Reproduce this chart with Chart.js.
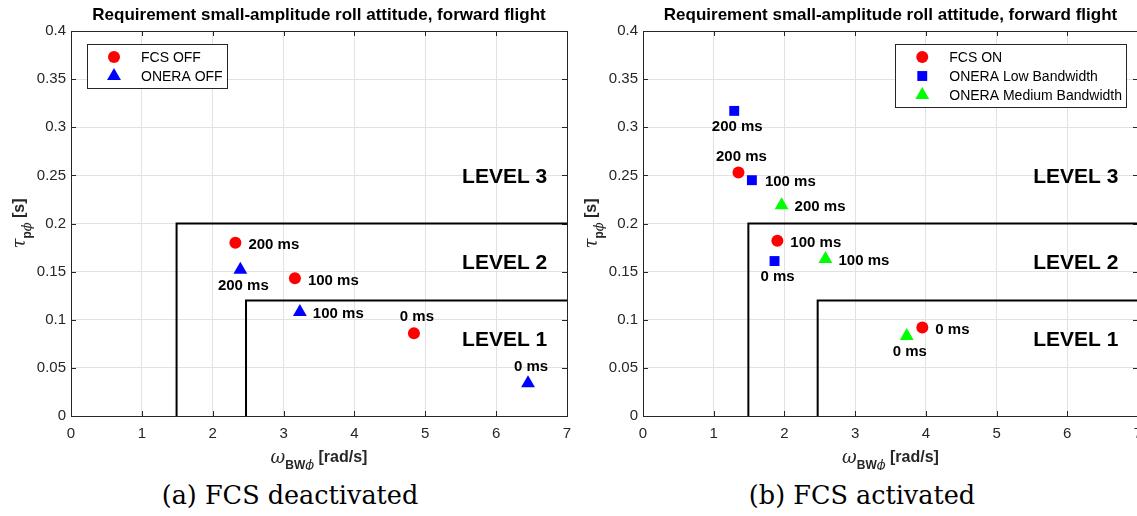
<!DOCTYPE html>
<html><head><meta charset="utf-8">
<script src="https://cdn.jsdelivr.net/npm/chart.js@4/dist/chart.umd.min.js"></script>
<style>
html,body{margin:0;padding:0;background:#fff;width:1137px;height:516px;overflow:hidden;position:relative}
canvas{position:absolute;top:0}
#c1{left:0}
#c2{left:572px}
.cap{position:absolute;top:480px;font-family:"DejaVu Serif",serif;font-size:25.5px;color:#000;white-space:nowrap;transform:translateX(-50%)}
</style></head><body>
<canvas id="c1" width="575" height="470"></canvas>
<canvas id="c2" width="580" height="470"></canvas>
<div class="cap" style="left:290px">(a) FCS deactivated</div>
<div class="cap" style="left:862px">(b) FCS activated</div>
<script>
// ---------- data ----------
const chartTitle = 'Requirement small-amplitude roll attitude, forward flight';
const xTicks = [0, 1, 2, 3, 4, 5, 6, 7];
const yTicks = [0, 0.05, 0.1, 0.15, 0.2, 0.25, 0.3, 0.35, 0.4];
const yTickLabels = ['0', '0.05', '0.1', '0.15', '0.2', '0.25', '0.3', '0.35', '0.4'];

// level boundaries
const level2X = [1.49, 1.49, 7];
const level2Y = [0, 0.2, 0.2];
const level1X = [2.47, 2.47, 7];
const level1Y = [0, 0.12, 0.12];
const levelNames = ['LEVEL 3', 'LEVEL 2', 'LEVEL 1'];
const levelNameX = [6.12, 6.12, 6.12];
const levelNameY = [0.248, 0.159, 0.079];

// (a) FCS deactivated
const fcsOffX = [2.32, 3.16, 4.84];
const fcsOffY = [0.180, 0.143, 0.086];
const fcsOffLabels = ['200 ms', '100 ms', '0 ms'];
const oneraOffX = [2.39, 3.23, 6.45];
const oneraOffY = [0.152, 0.108, 0.034];
const oneraOffLabels = ['200 ms', '100 ms', '0 ms'];

// (b) FCS activated
const fcsOnX = [1.35, 1.90, 3.95];
const fcsOnY = [0.253, 0.182, 0.092];
const fcsOnLabels = ['200 ms', '100 ms', '0 ms'];
const lowBwX = [1.29, 1.54, 1.86];
const lowBwY = [0.317, 0.245, 0.161];
const lowBwLabels = ['200 ms', '100 ms', '0 ms'];
const medBwX = [1.96, 2.58, 3.73];
const medBwY = [0.219, 0.163, 0.083];
const medBwLabels = ['200 ms', '100 ms', '0 ms'];

// ---------- label placement (style) ----------
const placeFcsOff = ['right', 'right', 'above'];
const placeOneraOff = ['below', 'right', 'above'];
const placeFcsOn = ['above', 'right', 'right'];
const placeLowBw = ['below', 'right', 'below'];
const placeMedBw = ['right', 'right', 'below'];

const AX = '#262626';
const SANS = '"Liberation Sans", Arial, sans-serif';

function drawMarker(ctx, style, x, y, r, color) {
  ctx.save();
  ctx.fillStyle = color;
  ctx.beginPath();
  if (style === 'circle') {
    ctx.arc(x, y, r, 0, Math.PI * 2);
  } else if (style === 'rect') {
    const s = r * Math.SQRT1_2;
    ctx.rect(x - s, y - s, 2 * s, 2 * s);
  } else if (style === 'triangle') {
    let a = 0;
    ctx.moveTo(x + Math.sin(a) * r, y - Math.cos(a) * r);
    a += 2 * Math.PI / 3;
    ctx.lineTo(x + Math.sin(a) * r, y - Math.cos(a) * r);
    a += 2 * Math.PI / 3;
    ctx.lineTo(x + Math.sin(a) * r, y - Math.cos(a) * r);
    ctx.closePath();
  }
  ctx.fill();
  ctx.restore();
}

function drawParts(ctx, parts, x, y) {
  let w = 0;
  parts.forEach(p => { ctx.font = p.font; w += ctx.measureText(p.t).width; });
  let cx = x - w / 2;
  ctx.textAlign = 'left';
  ctx.textBaseline = 'alphabetic';
  parts.forEach(p => {
    ctx.font = p.font;
    ctx.fillText(p.t, cx, y + p.dy);
    cx += ctx.measureText(p.t).width;
  });
}

const decor = {
  id: 'decor',
  beforeDatasetsDraw(chart) {
    const {ctx, chartArea: a, scales: {x, y}} = chart;
    ctx.save();
    ctx.strokeStyle = AX;
    ctx.lineWidth = 1;
    ctx.beginPath();
    xTicks.forEach(v => {
      const px = Math.round(x.getPixelForValue(v)) + 0.5;
      ctx.moveTo(px, a.bottom); ctx.lineTo(px, a.bottom - 5);
      ctx.moveTo(px, a.top); ctx.lineTo(px, a.top + 5);
    });
    yTicks.forEach(v => {
      const py = Math.round(y.getPixelForValue(v)) + 0.5;
      ctx.moveTo(a.left, py); ctx.lineTo(a.left + 5, py);
      ctx.moveTo(a.right, py); ctx.lineTo(a.right - 5, py);
    });
    ctx.stroke();
    ctx.strokeRect(Math.round(a.left) + 0.5, Math.round(a.top) + 0.5, Math.round(a.right - a.left), Math.round(a.bottom - a.top));
    ctx.restore();
  },
  afterDatasetsDraw(chart, args, opts) {
    const {ctx, chartArea: a, scales: {x, y}} = chart;
    ctx.save();
    // point labels
    ctx.fillStyle = '#000';
    ctx.font = 'bold 15px ' + SANS;
    opts.series.forEach(s => {
      s.x.forEach((v, i) => {
        const px = x.getPixelForValue(v), py = y.getPixelForValue(s.y[i]);
        const p = s.place[i];
        if (p === 'right') { ctx.textAlign = 'left'; ctx.textBaseline = 'middle'; ctx.fillText(s.labels[i], px + 13, py + 2); }
        else if (p === 'below') { ctx.textAlign = 'center'; ctx.textBaseline = 'middle'; ctx.fillText(s.labels[i], px + 3, py + 16); }
        else { ctx.textAlign = 'center'; ctx.textBaseline = 'middle'; ctx.fillText(s.labels[i], px + 3, py - 16); }
      });
    });
    // level names
    ctx.font = 'bold 21px ' + SANS;
    ctx.textAlign = 'center'; ctx.textBaseline = 'middle';
    levelNames.forEach((t, i) => ctx.fillText(t, x.getPixelForValue(levelNameX[i]), y.getPixelForValue(levelNameY[i])));
    // legend
    ctx.font = '14px ' + SANS;
    let tw = 0;
    opts.series.forEach(s => { tw = Math.max(tw, ctx.measureText(s.label).width); });
    const bw = 54 + tw + 4, bh = 19 * opts.series.length + 6;
    const bx = opts.legendRight ? a.right - 12 - bw : a.left + 16;
    const by = a.top + 13;
    ctx.fillStyle = '#fff';
    ctx.fillRect(bx, by, bw, bh);
    ctx.strokeStyle = AX; ctx.lineWidth = 1;
    ctx.strokeRect(Math.round(bx) + 0.5, by + 0.5, Math.round(bw), bh);
    opts.series.forEach((s, i) => {
      const ly = by + 13 + 19 * i;
      drawMarker(ctx, s.style, bx + 27, ly, s.r, s.color);
      ctx.fillStyle = '#000';
      ctx.textAlign = 'left'; ctx.textBaseline = 'middle';
      ctx.fillText(s.label, bx + 54, ly + 1);
    });
    // title
    ctx.fillStyle = '#000';
    ctx.font = 'bold 17px ' + SANS;
    ctx.textAlign = 'center'; ctx.textBaseline = 'middle';
    ctx.fillText(chartTitle, (a.left + a.right) / 2, 15);
    // x title
    ctx.fillStyle = AX;
    drawParts(ctx, [
      {t: 'ω', font: 'italic 18px "DejaVu Serif", serif', dy: 0},
      {t: 'BW', font: 'bold 12px ' + SANS, dy: 6},
      {t: 'ϕ', font: 'italic 13px "DejaVu Serif", serif', dy: 6},
      {t: ' [rad/s]', font: 'bold 16px ' + SANS, dy: -1}
    ], (a.left + a.right) / 2, a.bottom + 47);
    // y title
    ctx.save();
    ctx.translate(a.left - 46, (a.top + a.bottom) / 2);
    ctx.rotate(-Math.PI / 2);
    drawParts(ctx, [
      {t: 'τ', font: 'italic 18px "DejaVu Serif", serif', dy: 0},
      {t: 'p', font: 'bold 12px ' + SANS, dy: 6},
      {t: 'ϕ', font: 'italic 13px "DejaVu Serif", serif', dy: 6},
      {t: ' [s]', font: 'bold 16px ' + SANS, dy: -1}
    ], 0, 0);
    ctx.restore();
    ctx.restore();
  }
};

function makeChart(id, series, legendRight, rightPad) {
  const datasets = series.map(s => ({
    label: s.label,
    data: s.x.map((v, i) => ({x: v, y: s.y[i]})),
    pointStyle: s.style, pointRadius: s.r, pointHoverRadius: s.r,
    backgroundColor: s.color, borderColor: s.color, pointBorderWidth: 0,
    showLine: false, order: 0
  }));
  [[level2X, level2Y], [level1X, level1Y]].forEach(([lx, ly]) => datasets.push({
    type: 'line', label: 'boundary',
    data: lx.map((v, i) => ({x: v, y: ly[i]})),
    borderColor: '#000', borderWidth: 2, pointRadius: 0, fill: false,
    showLine: true, tension: 0, order: 1, clip: 2
  }));
  new Chart(document.getElementById(id), {
    type: 'scatter',
    data: {datasets},
    options: {
      responsive: false, animation: false, events: [],
      layout: {padding: {top: 31, right: rightPad, left: 0, bottom: 0}},
      plugins: {legend: {display: false}, tooltip: {enabled: false}, title: {display: false},
        decor: {series, legendRight}},
      scales: {
        x: {type: 'linear', min: 0, max: 7,
          afterBuildTicks: s => { s.ticks = xTicks.map(v => ({value: v})); },
          afterFit: s => { s.height = 54; s.paddingLeft = 0; s.paddingRight = 0; },
          ticks: {color: AX, font: {family: SANS, size: 15}, padding: 9, maxRotation: 0,
            callback: v => String(v)},
          grid: {color: '#e2e2e2', drawTicks: false},
          border: {display: false}},
        y: {type: 'linear', min: 0, max: 0.4,
          afterBuildTicks: s => { s.ticks = yTicks.map(v => ({value: v})); },
          afterFit: s => { s.width = 71; s.paddingTop = 0; s.paddingBottom = 0; },
          ticks: {color: AX, font: {family: SANS, size: 15}, padding: 5,
            callback: (v, i) => yTickLabels[i]},
          grid: {color: '#e2e2e2', drawTicks: false},
          border: {display: false}}
      }
    },
    plugins: [decor]
  });
}

makeChart('c1', [
  {label: 'FCS OFF', x: fcsOffX, y: fcsOffY, labels: fcsOffLabels, place: placeFcsOff, style: 'circle', r: 6, color: '#ff0000'},
  {label: 'ONERA OFF', x: oneraOffX, y: oneraOffY, labels: oneraOffLabels, place: placeOneraOff, style: 'triangle', r: 8, color: '#0000ff'}
], false, 8);

makeChart('c2', [
  {label: 'FCS ON', x: fcsOnX, y: fcsOnY, labels: fcsOnLabels, place: placeFcsOn, style: 'circle', r: 6, color: '#ff0000'},
  {label: 'ONERA Low Bandwidth', x: lowBwX, y: lowBwY, labels: lowBwLabels, place: placeLowBw, style: 'rect', r: 7, color: '#0000ff'},
  {label: 'ONERA Medium Bandwidth', x: medBwX, y: medBwY, labels: medBwLabels, place: placeMedBw, style: 'triangle', r: 8, color: '#00ff00'}
], true, 14);
</script>
</body></html>
